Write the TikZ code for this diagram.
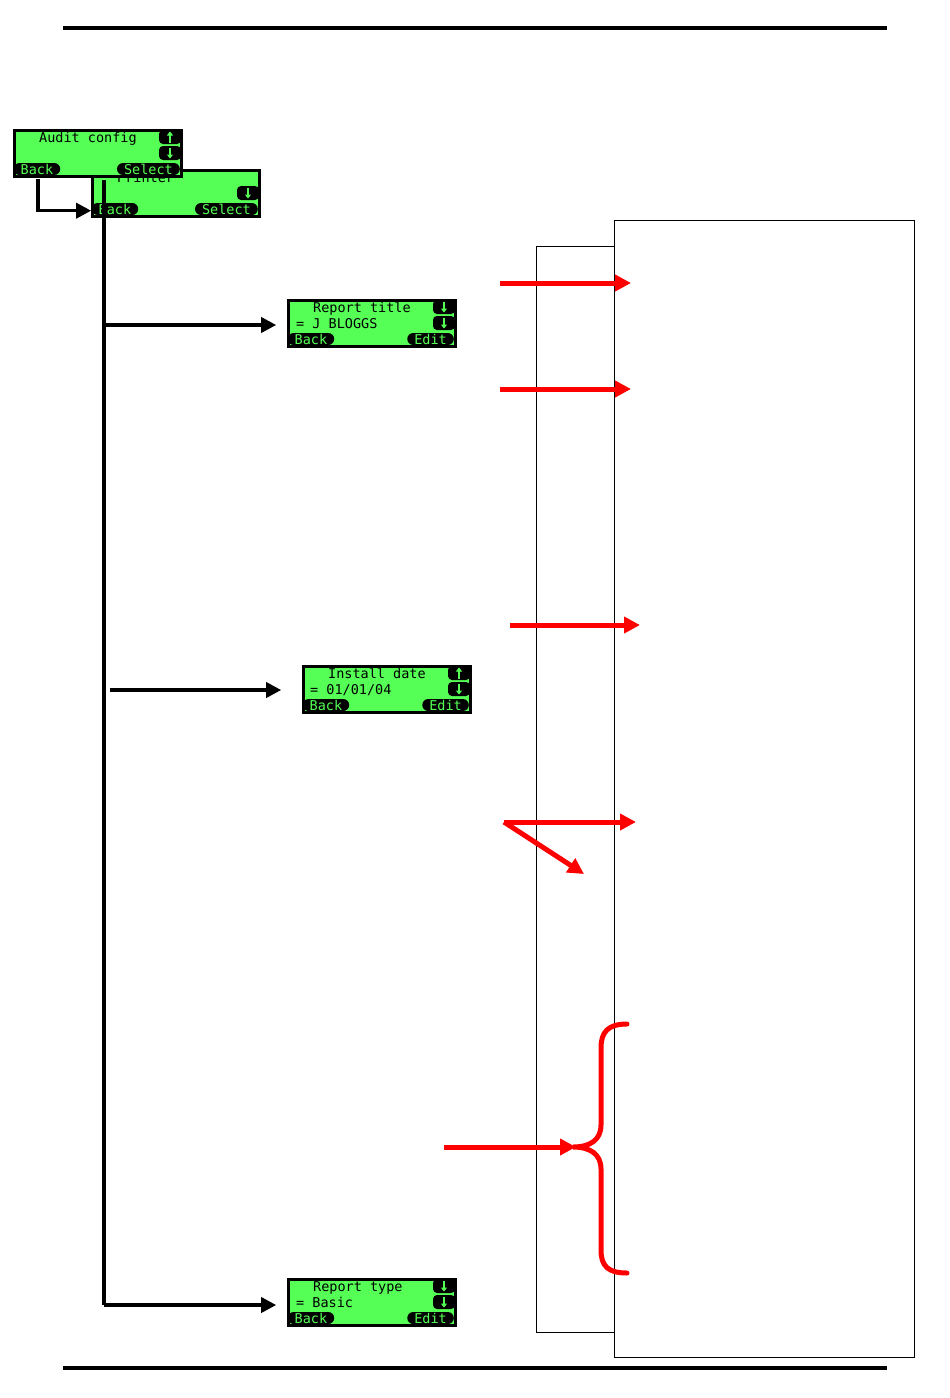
\documentclass[tikz,border=0pt]{standalone}
\usepackage{fontspec}
\newfontfamily\lcdfont{DejaVu Sans Mono}
\usetikzlibrary{arrows.meta}
\definecolor{lcdgreen}{HTML}{55FF55}
\definecolor{arrred}{HTML}{FF0000}
\tikzset{
  lcdbody/.style={draw=black, line width=2.5pt, fill=lcdgreen, inner sep=0pt,
    minimum width=167pt, minimum height=46pt, anchor=north west},
  lcdtext/.style={font=\lcdfont\fontsize{13.5}{14}\selectfont, inner sep=0pt, text=black},
  pill/.style={lcdtext, fill=black, text=lcdgreen, rounded corners=6pt,
    inner xsep=7pt, inner ysep=0pt, minimum height=12pt},
  blkline/.style={line width=3.5pt},
  blkarrow/.style={line width=3.5pt, -{Triangle[length=15pt,width=15pt]}},
  redarrow/.style={draw=arrred, line width=5pt, -{Triangle[length=16pt,width=16pt]}},
  redline/.style={draw=arrred, line width=5pt, line cap=round},
  panel/.style={draw=black, line width=1.3pt, fill=white, inner sep=0pt, anchor=north west},
  rulebar/.style={line width=4pt},
  lcdicon/.pic={
    \fill[black, rounded corners=4pt] (-11,-7) rectangle (11,7);
    \draw[lcdgreen, line width=1.6pt, -{Triangle[length=4pt,width=6pt]}] (0,-5.5) -- (0,5.5);
  }
}
\newcommand\lcdscreen[5]{% #1 name, #2 x, #3 y, #4 line1, #5 right pill
  \begin{scope}[shift={(#2,#3)}]
    \node[lcdbody] (#1) at (1.2,1.2) {};
    \node[lcdtext, anchor=base west] (#1-t1) at (27,14) {#4};
    \node[pill, anchor=west] (#1-back) at (1.5,41) {Back};
    \node[pill, anchor=east] (#1-right) at (168,41) {#5};
  \end{scope}}
\begin{document}
\begin{tikzpicture}[x=1pt, y=-1pt]
\useasboundingbox (0,0) rectangle (950,1398);
\fill[white] (0,0) rectangle (950,1398);

% header / footer rules
\coordinate (rtl) at (63,28);
\coordinate (rtr) at (887,28);
\coordinate (rbl) at (63,1368);
\coordinate (rbr) at (887,1368);
\draw[rulebar] (rtl) -- (rtr);
\draw[rulebar] (rbl) -- (rbr);

% panels on the right
\node[panel, minimum width=78pt, minimum height=1086pt] (panelA) at (536,246) {};
\node[panel, minimum width=300pt, minimum height=1137pt] (panelB) at (614,220) {};

% screens
\lcdscreen{printer}{90}{168}{Printer}{Select}
\pic at (90+158,168+25) {lcdicon};

\lcdscreen{audit}{12}{128}{Audit config}{Select}
\pic[rotate=180] at (12+158,128+9) {lcdicon};
\pic at (12+158,128+25) {lcdicon};

\lcdscreen{rtitle}{286}{298}{Report title}{Edit}
\node[lcdtext, anchor=base west] (rtitle-t2) at (296,328) {= J BLOGGS};
\pic at (286+158,298+9) {lcdicon};
\pic at (286+158,298+25) {lcdicon};

\lcdscreen{idate}{301}{664}{Install date}{Edit}
\node[lcdtext, anchor=base west] (idate-t2) at (310,694) {= 01/01/04};
\pic[rotate=180] at (301+158,664+9) {lcdicon};
\pic at (301+158,664+25) {lcdicon};

\lcdscreen{rtype}{286}{1277}{Report type}{Edit}
\node[lcdtext, anchor=base west] (rtype-t2) at (296,1307) {= Basic};
\pic at (286+158,1277+9) {lcdicon};
\pic at (286+158,1277+25) {lcdicon};

% black connectors
\coordinate (lstart) at (38,179);
\draw[blkarrow] (lstart) |- ([yshift=7pt]printer.south west);

\coordinate (trunktop) at (104,180);
\coordinate (trunkbot) at (104,1305);
\coordinate (b1) at (104,325);
\coordinate (b2) at (110,690);
\draw[blkline] (trunktop) -- (trunkbot);
\draw[blkarrow, shorten >=11pt] (trunkbot) -- (rtype.west |- trunkbot);
\draw[blkarrow, shorten >=11pt] (b1) -- (rtitle.west |- b1);
\draw[blkarrow, shorten >=21pt] (b2) -- (idate.west |- b2);

% red arrows
\coordinate (r1s) at (500,283); \coordinate (r1e) at (631,283);
\coordinate (r2s) at (500,389); \coordinate (r2e) at (631,389);
\coordinate (r3s) at (510,625); \coordinate (r3e) at (640,625);
\coordinate (r4s) at (504,822); \coordinate (r4e) at (636,822);
\coordinate (r4d) at (584,874);
\coordinate (r5s) at (444,1147); \coordinate (r5e) at (576,1147);
\draw[redarrow] (r1s) -- (r1e);
\draw[redarrow] (r2s) -- (r2e);
\draw[redarrow] (r3s) -- (r3e);
\draw[redarrow] (r4s) -- (r4e);
\draw[redarrow] (r4s) -- (r4d);
\draw[redarrow] (r5s) -- (r5e);

% brace
\draw[redline] (627,1024) .. controls (608,1024) and (601,1032) .. (601,1048)
  -- (601,1125) .. controls (601,1140) and (590,1147) .. (573,1147)
  .. controls (590,1147) and (601,1154) .. (601,1169)
  -- (601,1250) .. controls (601,1266) and (608,1273) .. (627,1273);
\end{tikzpicture}
\end{document}
